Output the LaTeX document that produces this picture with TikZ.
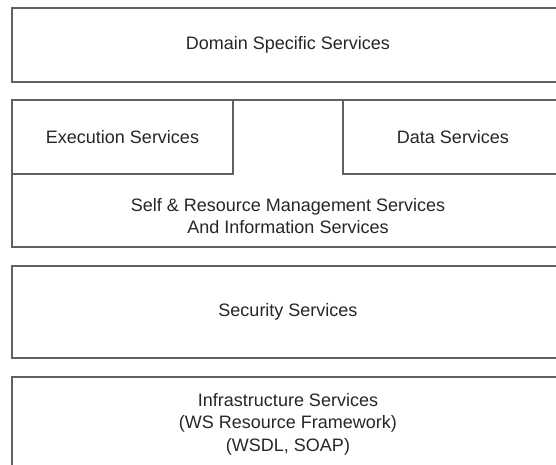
\documentclass[tikz,border=0pt]{standalone}
\usepackage{fontspec}
\setmainfont{Liberation Sans}
\usetikzlibrary{positioning}
\tikzset{
    layer/.style={
        draw=black!62,
        line width=1.5pt,
        line join=miter},
    label text/.style={
        align=center,
        text=black!85,
        inner sep=0pt,
        font=\fontsize{18}{22.5}\selectfont}}

\begin{document}
\begin{tikzpicture}[x=1pt,y=-1pt]
        \useasboundingbox (0,0) rectangle (556,465);
        \clip (0,0) rectangle (556,465);

        % layers, cut off at the right and bottom
        \draw[layer] (12,8) rectangle (600,82);
        \draw[layer] (12,100) rectangle (600,247);
        \draw[layer] (12,100) rectangle (233,174);
        \draw[layer] (343,100) rectangle (600,174);
        \draw[layer] (12,266) rectangle (600,358);
        \draw[layer] (12,377) rectangle (600,520);

        \node[label text] (domain) at (288,45) {Domain Specific Services};
        \node[label text] (exec) at (122.5,137) {Execution Services};
        \node[label text] (data) at (453,137) {Data Services};
        \node[label text] (self) at (288,216) {Self \& Resource Management Services\\And Information Services};
        \node[label text] (security) at (288,312) {Security Services};
        \node[label text] (infra) at (288,424) {Infrastructure Services\\(WS Resource Framework)\\(WSDL, SOAP)};

    \end{tikzpicture}
\end{document}
